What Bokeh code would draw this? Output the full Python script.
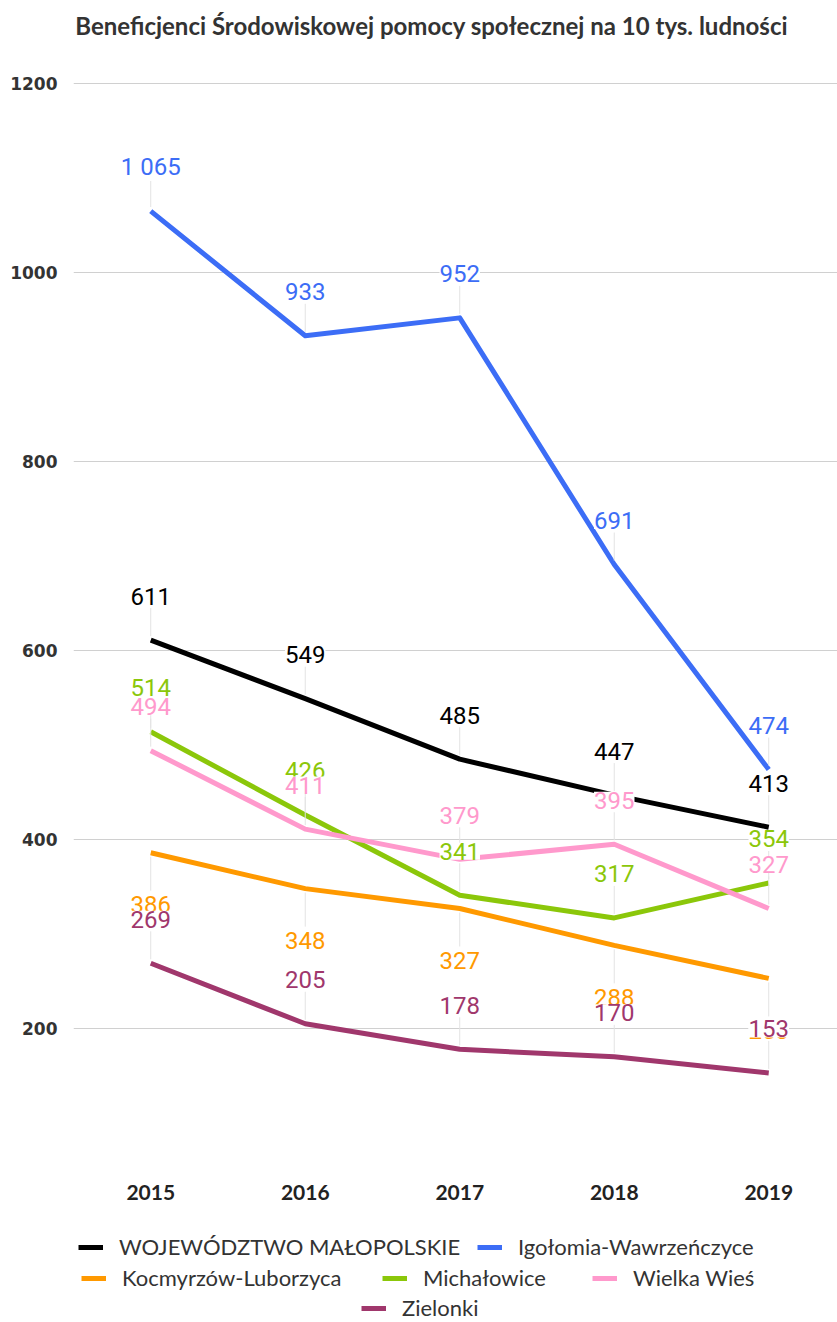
from bokeh.plotting import figure
from bokeh.models import Legend, LegendItem, ColumnDataSource, FixedTicker, Range1d
from bokeh.embed import file_html
from bokeh.resources import INLINE
from bokeh.core.properties import value

# ---- data ----
years = [2015, 2016, 2017, 2018, 2019]
year_labels = ["2015", "2016", "2017", "2018", "2019"]
wojewodztwo = [611, 549, 485, 447, 413]
igolomia = [1065, 933, 952, 691, 474]
kocmyrzow = [386, 348, 327, 288, 253]
michalowice = [514, 426, 341, 317, 354]
wielka_wies = [494, 411, 379, 395, 327]
zielonki = [269, 205, 178, 170, 153]
y_ticks = [200, 400, 600, 800, 1000, 1200]

names = ["WOJEWÓDZTWO MAŁOPOLSKIE", "Igołomia-Wawrzeńczyce", "Kocmyrzów-Luborzyca",
         "Michałowice", "Wielka Wieś", "Zielonki"]
series = [wojewodztwo, igolomia, kocmyrzow, michalowice, wielka_wies, zielonki]
colors = ["#000000", "#3c6df6", "#ff9900", "#8bc70a", "#ff99cc", "#a0376c"]
label_below = [False, False, True, False, False, False]

TITLE = "Beneficjenci Środowiskowej pomocy społecznej na 10 tys. ludności"

W, H = 837, 1322
px_per_unit = 0.945
Y_MAX = 1200 + 83 / px_per_unit
Y_MIN = 1200 - (H - 83) / px_per_unit

p = figure(width=W, height=H, output_backend="svg", toolbar_location=None,
           x_range=Range1d(2014.5, 2019.445), y_range=Range1d(Y_MIN, Y_MAX),
           min_border_left=73, min_border_right=0, min_border_top=0,
           min_border_bottom=0)

p.outline_line_color = None
p.background_fill_color = "white"
p.border_fill_color = "white"

p.xgrid.grid_line_color = None
p.ygrid.grid_line_color = "#d0d0d0"
p.ygrid.ticker = FixedTicker(ticks=y_ticks)

p.yaxis.ticker = FixedTicker(ticks=y_ticks)
p.yaxis.axis_line_color = None
p.yaxis.major_tick_line_color = None
p.yaxis.minor_tick_line_color = None
p.yaxis.major_label_text_font = "DejaVu Sans"
p.yaxis.major_label_text_font_style = "bold"
p.yaxis.major_label_text_font_size = "17px"
p.yaxis.major_label_text_color = "#333333"
p.yaxis.major_label_standoff = 10
p.xaxis.visible = False

# title (drawn at the top of the canvas)
x_mid = sum(years) / len(years)
p.text(x=[x_mid], y=[Y_MAX], text=[TITLE], text_color="#333333",
       text_font=value("Lato"), text_font_style="bold", text_font_size="24px",
       text_align="center", text_baseline="middle", x_offset=-28, y_offset=25)

# x category labels under the plot area
p.text(x=years, y=[Y_MIN] * len(years), text=year_labels, text_color="#222222",
       text_font=value("Lato"), text_font_style="bold", text_font_size="21px",
       text_align="center", text_baseline="middle", y_offset=-130)

renderers = []
for vals, col in zip(series, colors):
    r = p.line(years, vals, line_color=col, line_width=5, line_join="round")
    renderers.append(r)

# leader lines from points to labels
for vals, below in zip(series, label_below):
    if below:
        y0 = [v - 4 / px_per_unit for v in vals]
        y1 = [v - 38 / px_per_unit for v in vals]
    else:
        y0 = [v + 4 / px_per_unit for v in vals]
        y1 = [v + 32 / px_per_unit for v in vals]
    p.segment(x0=years, y0=y0, x1=years, y1=y1, line_color="#e3e3e3", line_width=1)

for vals, col, below in zip(series, colors, label_below):
    src = ColumnDataSource(dict(x=years, y=vals,
                                t=[f"{v:,}".replace(",", " ") for v in vals]))
    p.text(x="x", y="y", text="t", source=src, text_color=col,
           text_font=value("Roboto"), text_font_size="24px",
           text_align="center", text_baseline="middle",
           y_offset=(52 if below else -44),
           background_fill_color="white")

# legend entries placed individually (frame-relative screen px)
legend_pos = [(5, 62), (404, 62), (8, 31), (309, 31), (519, 31), (288, 1)]
for i, (lx, ly) in enumerate(legend_pos):
    lg = Legend(items=[LegendItem(label=names[i], renderers=[renderers[i]])],
                location=(lx, ly), orientation="horizontal",
                border_line_color=None, background_fill_alpha=0,
                label_text_font="Lato", label_text_font_size="22px",
                label_text_color="#333333", glyph_width=25, glyph_height=20,
                label_height=20, label_standoff=16, padding=0, margin=0)
    p.add_layout(lg, "center")

open("out.html", "w").write(file_html(p, INLINE))
